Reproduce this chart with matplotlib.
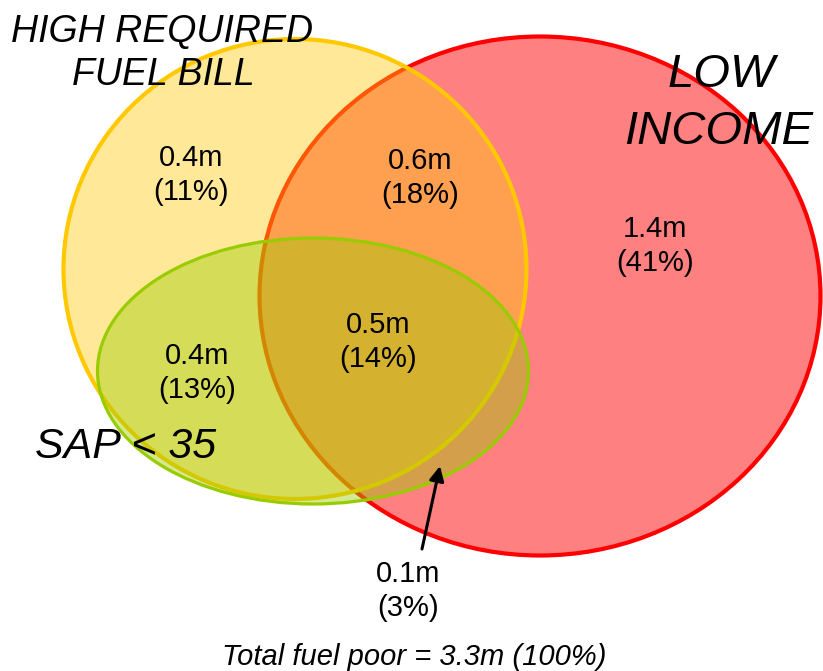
import matplotlib.pyplot as plt
from matplotlib.patches import Ellipse

plt.rcParams['font.family'] = ['Liberation Sans', 'DejaVu Sans']

# sets: name lines, centre (px), width, height
set_names = [['LOW', 'INCOME'], ['HIGH REQUIRED', 'FUEL BILL'], ['SAP < 35']]
set_centres = [(540, 296), (295, 269), (313, 371)]
set_widths = [561, 463, 431]
set_heights = [519, 460, 266]
fill_colours = [(1.0, 0.5, 0.5, 1.0), (1.0, 203/255, 15/255, 0.425), (153/255, 204/255, 0.0, 0.42)]
edge_colours = ['#FF0000', '#FFC800', '#99CC00']
edge_widths = [3.0, 3.0, 2.3]

# region values
region_values = ['0.4m', '0.6m', '1.4m', '0.5m', '0.4m', '0.1m']
region_shares = ['11%', '18%', '41%', '14%', '13%', '3%']
region_pos = [(191, 175), (420, 178), (655, 246), (378, 342), (197, 373), (408, 591)]

fig = plt.figure(figsize=(8.23, 6.71), dpi=100)
ax = fig.add_axes([0, 0, 1, 1])
ax.set_xlim(0, 823)
ax.set_ylim(671, 0)
ax.axis('off')

for i in range(3):
    fill = Ellipse(set_centres[i], set_widths[i], set_heights[i],
                   facecolor=fill_colours[i], edgecolor='none', zorder=2 * i + 1)
    ax.add_patch(fill)
    # red edge sits under the later fills, the others on top of their own fill
    edge = Ellipse(set_centres[i], set_widths[i], set_heights[i], facecolor='none',
                   edgecolor=edge_colours[i], linewidth=edge_widths[i], zorder=2 * i + 2)
    ax.add_patch(edge)

for val, share, (x, y) in zip(region_values, region_shares, region_pos):
    ax.text(x, y, '{}\n({})'.format(val, share), ha='center', va='center',
            fontsize=21, linespacing=1.25, zorder=10)

ax.annotate('', xy=(440, 466), xytext=(422, 549),
            arrowprops=dict(arrowstyle='-|>', color='black', lw=2.2,
                            mutation_scale=22, shrinkA=0, shrinkB=0), zorder=10)

# set labels, one line at a time
ax.text(162, 32, set_names[1][0], ha='center', va='center', fontsize=27, style='italic', zorder=10)
ax.text(163, 75, set_names[1][1], ha='center', va='center', fontsize=27, style='italic', zorder=10)
ax.text(721, 75, set_names[0][0], ha='center', va='center', fontsize=34, style='italic', zorder=10)
ax.text(719, 132, set_names[0][1], ha='center', va='center', fontsize=34, style='italic', zorder=10)
ax.text(126, 447, set_names[2][0], ha='center', va='center', fontsize=31, style='italic', zorder=10)
ax.text(414, 657, 'Total fuel poor = 3.3m (100%)', ha='center', va='center',
        fontsize=21, style='italic', zorder=10)

plt.savefig('out.png', dpi=100)
